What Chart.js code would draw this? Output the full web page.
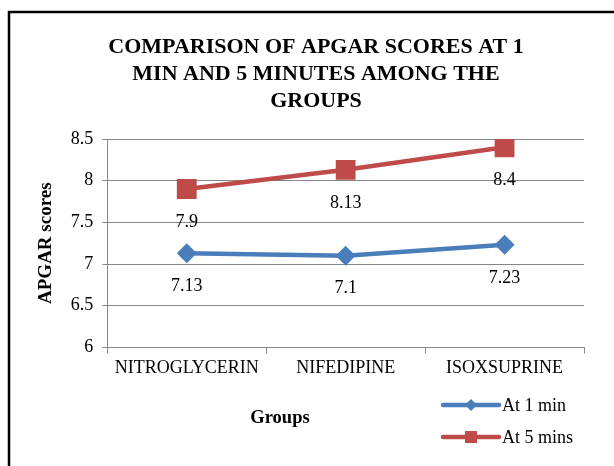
<!DOCTYPE html>
<html>
<head>
<meta charset="utf-8">
<script src="https://cdn.jsdelivr.net/npm/chart.js@4/dist/chart.umd.min.js"></script>
<style>
html,body{margin:0;padding:0;background:#fff;}
#wrap{width:614px;height:466px;position:relative;}
</style>
</head>
<body>
<div id="wrap"><canvas id="c" width="614" height="466"></canvas></div>
<script>
const categories = ["NITROGLYCERIN", "NIFEDIPINE", "ISOXSUPRINE"];
const at1min = [7.13, 7.1, 7.23];
const at5mins = [7.9, 8.13, 8.4];
const seriesNames = ["At 1 min", "At 5 mins"];
const titleLines = ["COMPARISON OF APGAR SCORES AT 1", "MIN AND 5 MINUTES AMONG THE", "GROUPS"];
const yTitle = "APGAR scores";
const xTitle = "Groups";

const BLUE = "#4A7EBB";
const RED = "#BE4B48";
const SERIF = "'Liberation Serif', 'Times New Roman', serif";
const TXT = 18;

const borderPlugin = {
  id: 'frame',
  beforeDraw(chart) {
    const ctx = chart.ctx;
    ctx.save();
    ctx.fillStyle = '#fff';
    ctx.fillRect(0, 0, chart.width, chart.height);
    ctx.strokeStyle = '#000';
    ctx.lineWidth = 2.5;
    ctx.strokeRect(9, 12, chart.width + 20, chart.height + 20);
    ctx.restore();
  }
};

const labelPlugin = {
  id: 'pointLabels',
  afterDatasetsDraw(chart) {
    const ctx = chart.ctx;
    ctx.save();
    ctx.font = TXT + "px " + SERIF;
    ctx.fillStyle = '#000';
    ctx.textAlign = 'center';
    ctx.textBaseline = 'middle';
    chart.data.datasets.forEach((ds, i) => {
      const meta = chart.getDatasetMeta(i);
      meta.data.forEach((pt, j) => {
        ctx.fillText(String(ds.data[j]), pt.x, pt.y + 33);
      });
    });
    ctx.restore();
  }
};

const textPlugin = {
  id: 'texts',
  afterDraw(chart) {
    const ctx = chart.ctx;
    ctx.save();
    ctx.fillStyle = '#000';
    ctx.textAlign = 'center';
    ctx.textBaseline = 'middle';
    ctx.font = "bold 22px " + SERIF;
    titleLines.forEach((t, i) => ctx.fillText(t, 316, 47 + i * 27));
    ctx.font = "bold 18.5px " + SERIF;
    ctx.fillText(xTitle, 280, 418);
    ctx.restore();
  }
};

const legendPlugin = {
  id: 'customLegend',
  afterDraw(chart) {
    const ctx = chart.ctx;
    ctx.save();
    const x0 = 443, x1 = 499;
    const ys = [405, 437];
    chart.data.datasets.forEach((ds, i) => {
      const y = ys[i];
      ctx.strokeStyle = ds.borderColor;
      ctx.lineWidth = 4.5;
      ctx.lineCap = 'round';
      ctx.beginPath();
      ctx.moveTo(x0, y);
      ctx.lineTo(x1, y);
      ctx.stroke();
      ctx.fillStyle = ds.backgroundColor;
      const cx = (x0 + x1) / 2;
      if (ds.pointStyle === 'rectRot') {
        ctx.beginPath();
        ctx.moveTo(cx, y - 6); ctx.lineTo(cx + 6, y); ctx.lineTo(cx, y + 6); ctx.lineTo(cx - 6, y);
        ctx.closePath(); ctx.fill();
      } else {
        ctx.fillRect(cx - 6, y - 6, 12, 12);
      }
      ctx.fillStyle = '#000';
      ctx.font = TXT + "px " + SERIF;
      ctx.textAlign = 'left';
      ctx.textBaseline = 'middle';
      ctx.fillText(ds.label, x1 + 3, y + 1);
    });
    ctx.restore();
  }
};

new Chart(document.getElementById('c'), {
  type: 'line',
  data: {
    labels: categories,
    datasets: [
      { label: seriesNames[0], data: at1min, borderColor: BLUE, backgroundColor: BLUE,
        borderWidth: 4.5, pointStyle: 'rectRot', pointRadius: 10, pointHoverRadius: 10,
        pointBorderWidth: 0, tension: 0 },
      { label: seriesNames[1], data: at5mins, borderColor: RED, backgroundColor: RED,
        borderWidth: 4.5, pointStyle: 'rect', pointRadius: 14, pointHoverRadius: 14,
        pointBorderWidth: 0, tension: 0 }
    ]
  },
  options: {
    responsive: false,
    animation: false,
    events: [],
    layout: { padding: { left: 35, right: 30, top: 139, bottom: 83 } },
    plugins: {
      legend: { display: false },
      tooltip: { enabled: false },
      title: { display: false }
    },
    scales: {
      x: {
        offset: true,
        grid: { offset: true, drawOnChartArea: false, drawTicks: true, tickLength: 6, color: '#868686' },
        border: { color: '#868686', width: 1 },
        ticks: { color: '#000', font: { family: SERIF, size: TXT }, padding: 4, maxRotation: 0 },
        title: { display: false, text: xTitle }
      },
      y: {
        min: 6, max: 8.5,
        ticks: { stepSize: 0.5, color: '#000', font: { family: SERIF, size: TXT }, padding: 9,
                 callback: (v) => String(Number(Number(v).toFixed(1))) },
        grid: { color: '#868686', tickLength: 5 },
        border: { color: '#868686', width: 1 },
        title: { display: true, text: yTitle, color: '#000', font: { family: SERIF, size: 19, weight: 'bold' }, padding: { top: 0, bottom: 4 } }
      }
    }
  },
  plugins: [borderPlugin, labelPlugin, textPlugin, legendPlugin]
});
</script>
</body>
</html>
